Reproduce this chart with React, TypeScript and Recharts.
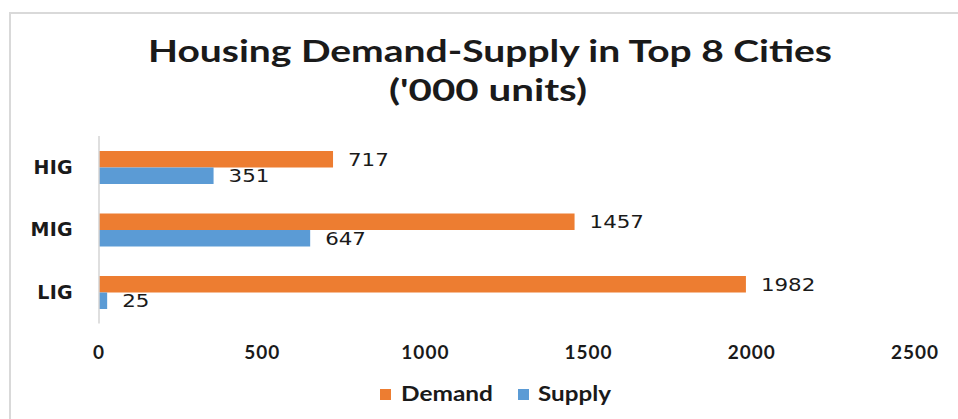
import React from 'react';
import { BarChart, Bar, XAxis, YAxis, LabelList } from 'recharts';

const categories: string[] = ['HIG', 'MIG', 'LIG'];
const demandValues: number[] = [717, 1457, 1982];
const supplyValues: number[] = [351, 647, 25];
const xTicks: number[] = [0, 500, 1000, 1500, 2000, 2500];
const titleLines: string[] = ['Housing Demand-Supply in Top 8 Cities', "('000 units)"];
const seriesNames: string[] = ['Demand', 'Supply'];

const ORANGE = '#ED7D31';
const BLUE = '#5B9BD5';

const data = categories.map((c, i) => ({
  category: c,
  Demand: demandValues[i],
  Supply: supplyValues[i],
}));

const renderValueLabel = (props: any) => {
  const { x, y, width, height, value } = props;
  const s = String(value);
  return (
    <text
      x={Number(x) + Number(width) + 15}
      y={Number(y) + Number(height) / 2}
      dy="0.36em"
      textLength={s.length * 13.6}
      lengthAdjust="spacingAndGlyphs"
      style={{ fontFamily: 'DejaVu Sans', fontSize: 18.5, fill: '#1a1a1a' }}
    >
      {s}
    </text>
  );
};

export default function App() {
  return (
    <div style={{ position: 'fixed', left: 0, top: 0, width: 958, height: 419, background: '#fff', overflow: 'hidden' }}>
      <div
        style={{
          position: 'absolute',
          left: 9,
          top: 12,
          width: 960,
          height: 420,
          borderTop: '2px solid #d9d9d9',
          borderLeft: '2px solid #d9d9d9',
          boxSizing: 'border-box',
        }}
      />
      <div style={{ position: 'absolute', left: 0, top: 0 }}>
        <BarChart
          width={958}
          height={419}
          data={data}
          layout="vertical"
          margin={{ top: 136, right: 43, bottom: 65.5, left: 39 }}
          barSize={16.5}
          barGap={0}
        >
          <XAxis
            type="number"
            domain={[0, 2500]}
            ticks={xTicks}
            interval={0}
            axisLine={false}
            tickLine={false}
            tickSize={0}
            tickMargin={22}
            height={30}
            tick={{ fontFamily: 'Lato', fontWeight: 700, fontSize: 19, letterSpacing: 1, fill: '#1a1a1a' }}
          />
          <YAxis
            type="category"
            dataKey="category"
            width={60}
            axisLine={{ stroke: '#d4d4d4', strokeWidth: 1.5 }}
            tickLine={false}
            tickSize={0}
            tickMargin={26}
            tick={{ fontFamily: 'DejaVu Sans', fontWeight: 700, fontSize: 19, letterSpacing: 0.3, fill: '#1a1a1a' }}
          />
          <Bar dataKey="Demand" fill={ORANGE} isAnimationActive={false}>
            <LabelList dataKey="Demand" content={renderValueLabel} />
          </Bar>
          <Bar dataKey="Supply" fill={BLUE} isAnimationActive={false}>
            <LabelList dataKey="Supply" content={renderValueLabel} />
          </Bar>
        </BarChart>
      </div>
      <svg
        width={958}
        height={419}
        style={{ position: 'absolute', left: 0, top: 0, pointerEvents: 'none' }}
      >
        <text
          x={490}
          y={62}
          textAnchor="middle"
          textLength={684}
          lengthAdjust="spacingAndGlyphs"
          style={{ fontFamily: 'Lato', fontWeight: 700, fontSize: 31, fill: '#1a1a1a' }}
        >
          {titleLines[0]}
        </text>
        <text
          x={488}
          y={101}
          textAnchor="middle"
          textLength={198}
          lengthAdjust="spacingAndGlyphs"
          style={{ fontFamily: 'Lato', fontWeight: 700, fontSize: 31, fill: '#1a1a1a' }}
        >
          {titleLines[1]}
        </text>
        <rect x={380} y={389} width={11} height={11} fill={ORANGE} />
        <text
          x={401}
          y={401}
          textLength={92}
          lengthAdjust="spacingAndGlyphs"
          style={{ fontFamily: 'Lato', fontWeight: 700, fontSize: 20, fill: '#1a1a1a' }}
        >
          {seriesNames[0]}
        </text>
        <rect x={518} y={389} width={11} height={11} fill={BLUE} />
        <text
          x={538}
          y={401}
          textLength={73}
          lengthAdjust="spacingAndGlyphs"
          style={{ fontFamily: 'Lato', fontWeight: 700, fontSize: 20, fill: '#1a1a1a' }}
        >
          {seriesNames[1]}
        </text>
      </svg>
    </div>
  );
}
